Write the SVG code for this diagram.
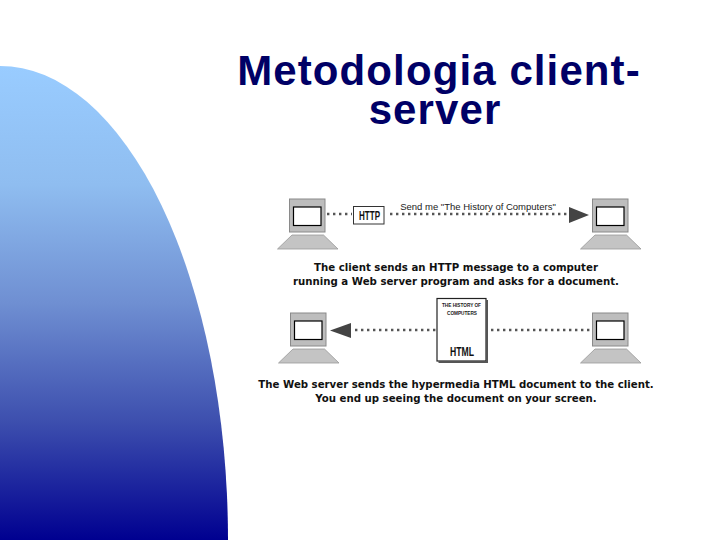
<svg xmlns="http://www.w3.org/2000/svg" width="720" height="540" viewBox="0 0 720 540">
<style>
.title{font:bold 42px "Liberation Sans",Arial,sans-serif;letter-spacing:1.1px;fill:#000066;text-anchor:middle}
.cap{font:bold 10.2px "DejaVu Sans",sans-serif;fill:#111;text-anchor:middle}
.lbl{font:bold 12px "Liberation Sans",sans-serif;fill:#111}
.tiny{font:bold 5px "Liberation Sans",sans-serif;fill:#222}
.dots{fill:none;stroke:#555;stroke-width:2.4;stroke-dasharray:2.4 3.6}
.case{fill:#bdbdbd;stroke:#8a8a8a;stroke-width:1}
.screen{fill:#fff;stroke:#000;stroke-width:1.2}
.base{fill:#c4c4c4;stroke:#999;stroke-width:.8}
</style>
<defs>
<linearGradient id="bg" x1="0" y1="0" x2="0" y2="1">
<stop offset="0" stop-color="#99ccff"/>
<stop offset=".25" stop-color="#8fbdf0"/>
<stop offset=".5" stop-color="#6f8fd2"/>
<stop offset=".75" stop-color="#3d4fae"/>
<stop offset="1" stop-color="#000090"/>
</linearGradient>
<g id="pc">
<rect class="case" x="0" y="0" width="35.5" height="33"/>
<rect class="screen" x="4" y="8" width="27.5" height="18.5"/>
<path class="base" d="M2.500 36H34L48.500 50H-12Z"/>
</g>
</defs>
<path id="shape" d="M0 66A228 474 0 0 1 228 540H0Z" fill="url(#bg)"/>
<g id="title">
<text class="title" x="439" y="85">Metodologia client-</text>
<text class="title" x="435" y="123.500">server</text>
</g>
<g id="connectors">
<path class="dots" d="M327 214H352"/>
<path class="dots" d="M390 214H570"/>
<path class="dots" d="M355 330H436"/>
<path class="dots" d="M491 330H592"/>
<path d="M569 207L589 215L569 223Z" fill="#444"/>
<path d="M351 323L330 330.500L351 338Z" fill="#444"/>
</g>
<g id="pc1"><use href="#pc" x="289.500" y="199"/></g>
<g id="pc2"><use href="#pc" x="592.500" y="199"/></g>
<g id="pc3"><use href="#pc" x="290.500" y="313"/></g>
<g id="pc4"><use href="#pc" x="592.500" y="313"/></g>
<g id="http">
<rect x="353.500" y="206.500" width="30.500" height="17.500" fill="#fff" stroke="#333"/>
<text class="lbl" x="359" y="220" textLength="21" lengthAdjust="spacingAndGlyphs">HTTP</text>
</g>
<g id="html">
<rect x="437" y="298.500" width="49" height="62.500" fill="#fff" stroke="#222" stroke-width="1.200"/>
<path d="M487 300V362H438.500" fill="none" stroke="#555" stroke-width="2"/>
<text class="tiny" x="442" y="307" textLength="39" lengthAdjust="spacingAndGlyphs">THE HISTORY OF</text>
<text class="tiny" x="447" y="315" textLength="30" lengthAdjust="spacingAndGlyphs">COMPUTERS</text>
<text class="lbl" x="450" y="356" textLength="24" lengthAdjust="spacingAndGlyphs">HTML</text>
</g>
<g id="labels">
<text x="478" y="210" font-family="Liberation Sans,sans-serif" font-size="9.500" text-anchor="middle" fill="#222">Send me "The History of Computers"</text>
<text class="cap" x="456" y="271">The client sends an HTTP message to a computer</text>
<text class="cap" x="456" y="285">running a Web server program and asks for a document.</text>
<text class="cap" x="456" y="388">The Web server sends the hypermedia HTML document to the client.</text>
<text class="cap" x="456" y="402">You end up seeing the document on your screen.</text>
</g>
</svg>
